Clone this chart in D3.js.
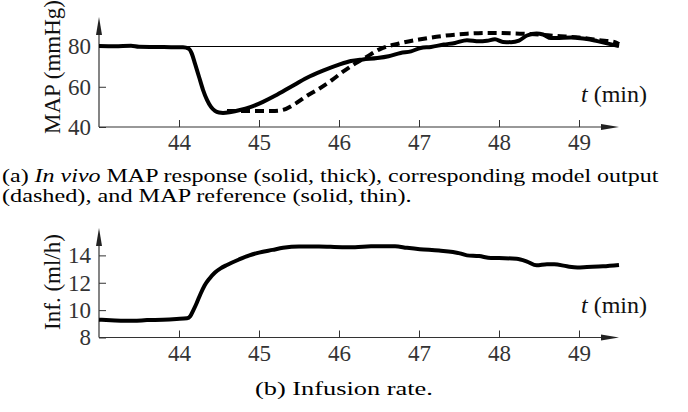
<!DOCTYPE html>
<html>
<head>
<meta charset="utf-8">
<script src="https://cdn.jsdelivr.net/npm/d3@7"></script>
<style>
  body { margin: 0; background: #fff; }
  svg { display: block; }
  svg text { font-family: "Liberation Serif", serif !important; }
</style>
</head>
<body>
<script>
// Datos (tiempo en min)
var xTicks = [44, 45, 46, 47, 48, 49];
var mapTicks = [40, 60, 80];
var infTicks = [8, 10, 12, 14];
var mapReference = 80;

// MAP in vivo (solida, gruesa)
var mapTime = [43.0, 43.2, 43.4, 43.5, 43.7, 43.9, 44.05, 44.12, 44.16, 44.2, 44.25, 44.3, 44.35, 44.4, 44.45, 44.5, 44.55,
  44.65, 44.75, 44.9, 45.05, 45.2, 45.4, 45.6, 45.8, 46.0, 46.15, 46.3, 46.48, 46.62, 46.77, 46.9, 47.02, 47.15, 47.31,
  47.45, 47.6, 47.75, 47.85, 47.95, 48.05, 48.15, 48.25, 48.35, 48.47, 48.55, 48.65, 48.75, 48.9, 48.98, 49.1, 49.23, 49.35, 49.5];
var mapValues = [80.3, 80.2, 80.4, 79.9, 79.8, 79.7, 79.6, 79.0, 76.5, 71.5, 65, 58.5, 53.5, 50, 48, 47.2, 47,
  47.5, 48.3, 50, 52.5, 55.5, 60, 64.5, 68, 71, 72.8, 73.6, 74.3, 75.2, 76.8, 77.6, 79.3, 79.8, 81,
  81.8, 83.2, 82.6, 82.9, 83.6, 82.3, 82.2, 83, 85.5, 86.5, 86, 84.2, 84.3, 84.5, 84.3, 83.8, 82.7, 81.6, 80.2];

// salida del modelo (discontinua)
var modelTime = [44.6, 44.8, 45.0, 45.2, 45.3, 45.45, 45.6, 45.75, 45.9, 46.05, 46.2, 46.35, 46.5, 46.75, 47.0,
  47.3, 47.6, 47.9, 48.2, 48.5, 48.7, 49.0, 49.25, 49.45, 49.5];
var modelValues = [48, 48, 48, 48, 48.5, 51.5, 55.5, 59, 63, 67.5, 71.5, 75, 78.5, 81.5, 83.5,
  85.3, 86.4, 86.8, 86.5, 86, 85.3, 84.5, 83.2, 82.2, 81.2];

// tasa de infusion
var infTime = [43.0, 43.2, 43.43, 43.6, 43.8, 43.97, 44.1, 44.14, 44.18, 44.22, 44.27, 44.32, 44.38, 44.45, 44.52,
  44.6, 44.75, 44.88, 45.0, 45.17, 45.3, 45.5, 45.75, 46.04, 46.2, 46.4, 46.7, 46.85, 47.01, 47.25, 47.51, 47.6,
  47.75, 47.9, 48.0, 48.22, 48.35, 48.47, 48.6, 48.69, 48.85, 48.98, 49.1, 49.3, 49.5];
var infValues = [9.3, 9.25, 9.22, 9.27, 9.3, 9.35, 9.4, 9.55, 10.0, 10.5, 11.2, 11.8, 12.3, 12.75, 13.05,
  13.3, 13.7, 14.0, 14.2, 14.4, 14.55, 14.65, 14.65, 14.6, 14.6, 14.66, 14.66, 14.55, 14.45, 14.35, 14.15, 14.0,
  13.95, 13.8, 13.8, 13.75, 13.55, 13.27, 13.35, 13.35, 13.2, 13.12, 13.15, 13.2, 13.3];

var width = 688, height = 412;

var svg = d3.select("body").append("svg")
    .attr("width", width)
    .attr("height", height);

// Escala temporal compartida
var x = d3.scaleLinear().domain([43, 49.5]).range([99, 619]);

function styleAxis(s) {
  s.attr("font-family", "Liberation Serif").attr("font-size", 23);
  s.select(".domain").remove();
  s.selectAll(".tick line").attr("stroke", "#333");
  s.selectAll(".tick text").attr("fill", "#333");
}

function drawPanel(yDomain, yRange, ticks, label, labelY) {
  var y = d3.scaleLinear().domain(yDomain).range(yRange);
  var g = svg.append("g");

  var xAxis = d3.axisBottom(x).tickValues(xTicks).tickSize(-7).tickPadding(7).tickFormat(d3.format("d"));
  g.append("g")
      .attr("transform", "translate(0," + y(yDomain[0]) + ")")
      .call(xAxis)
      .call(styleAxis);

  var yAxis = d3.axisLeft(y).tickValues(ticks).tickSize(-7).tickPadding(8).tickFormat(d3.format("d"));
  g.append("g")
      .attr("transform", "translate(" + x(43) + ",0)")
      .call(yAxis)
      .call(styleAxis);

  // ejes con flecha
  var x0 = x(43), x1 = x(49.5), y0 = y(yDomain[0]), y1 = y(yDomain[1]);
  g.append("line").attr("x1", x0).attr("x2", x1 - 10).attr("y1", y0).attr("y2", y0)
      .attr("stroke", "#333").attr("stroke-width", 1.2);
  g.append("path").attr("d", "M" + x1 + "," + y0 + "L" + (x1 - 18) + "," + (y0 - 3) + "L" + (x1 - 18) + "," + (y0 + 3) + "Z")
      .attr("fill", "#222");
  g.append("line").attr("x1", x0).attr("x2", x0).attr("y1", y0).attr("y2", y1 + 10)
      .attr("stroke", "#333").attr("stroke-width", 1.2);
  g.append("path").attr("d", "M" + x0 + "," + y1 + "L" + (x0 - 3) + "," + (y1 + 18) + "L" + (x0 + 3) + "," + (y1 + 18) + "Z")
      .attr("fill", "#222");

  // etiqueta del eje Y
  g.append("text")
      .attr("transform", "translate(60," + labelY + ") rotate(-90)")
      .attr("text-anchor", "middle")
      .attr("font-size", 23)
      .attr("fill", "#111")
      .text(label);

  // etiqueta t (min)
  var t = g.append("text")
      .attr("x", 581).attr("y", y0 - 25)
      .attr("font-size", 24)
      .attr("fill", "#111");
  t.append("tspan").attr("font-style", "italic").text("t");
  t.append("tspan").text(" (min)");

  return { g: g, y: y };
}

// Panel (a)
var panelA = drawPanel([40, 94.7], [127, 17], mapTicks, "MAP (mmHg)", 67);

panelA.g.append("line")
    .attr("x1", x(43)).attr("x2", x(49.5))
    .attr("y1", panelA.y(mapReference)).attr("y2", panelA.y(mapReference))
    .attr("stroke", "#000").attr("stroke-width", 1.1);

var mapLine = d3.line()
    .x(function(d, i) { return x(mapTime[i]); })
    .y(function(d) { return panelA.y(d); })
    .curve(d3.curveMonotoneX);

var modelLine = d3.line()
    .x(function(d, i) { return x(modelTime[i]); })
    .y(function(d) { return panelA.y(d); })
    .curve(d3.curveMonotoneX);

panelA.g.append("path")
    .attr("d", modelLine(modelValues))
    .attr("fill", "none").attr("stroke", "#000").attr("stroke-width", 4)
    .attr("stroke-dasharray", "9,5");

panelA.g.append("path")
    .attr("d", mapLine(mapValues))
    .attr("fill", "none").attr("stroke", "#000").attr("stroke-width", 4)
    .attr("stroke-linejoin", "round");

// Panel (b)
var panelB = drawPanel([8, 16], [337.5, 228], infTicks, "Inf. (ml/h)", 282);

var infLine = d3.line()
    .x(function(d, i) { return x(infTime[i]); })
    .y(function(d) { return panelB.y(d); })
    .curve(d3.curveMonotoneX);

panelB.g.append("path")
    .attr("d", infLine(infValues))
    .attr("fill", "none").attr("stroke", "#000").attr("stroke-width", 4)
    .attr("stroke-linejoin", "round");

// Pies de figura: se ensancha el texto horizontalmente para imitar la fuente original
function caption(xPos, yPos, target, anchor, build) {
  var t = svg.append("text")
      .attr("x", 0).attr("y", 0)
      .attr("font-size", 19)
      .attr("fill", "#000");
  build(t);
  var w = t.node().getComputedTextLength();
  var k = target / w;
  var x0 = anchor === "middle" ? xPos - target / 2 : xPos;
  t.attr("transform", "translate(" + x0 + "," + yPos + ") scale(" + k + ",1)");
}

caption(2, 182, 657, "start", function(t) {
  t.append("tspan").attr("font-style", "italic").text("(a) ").attr("font-style", null);
  t.append("tspan").attr("font-style", "italic").text("In vivo");
  t.append("tspan").text(" MAP response (solid, thick), corresponding model output");
});

caption(2, 202, 410, "start", function(t) {
  t.text("(dashed), and MAP reference (solid, thin).");
});

caption(344, 395, 178, "middle", function(t) {
  t.text("(b) Infusion rate.");
});
</script>
</body>
</html>
